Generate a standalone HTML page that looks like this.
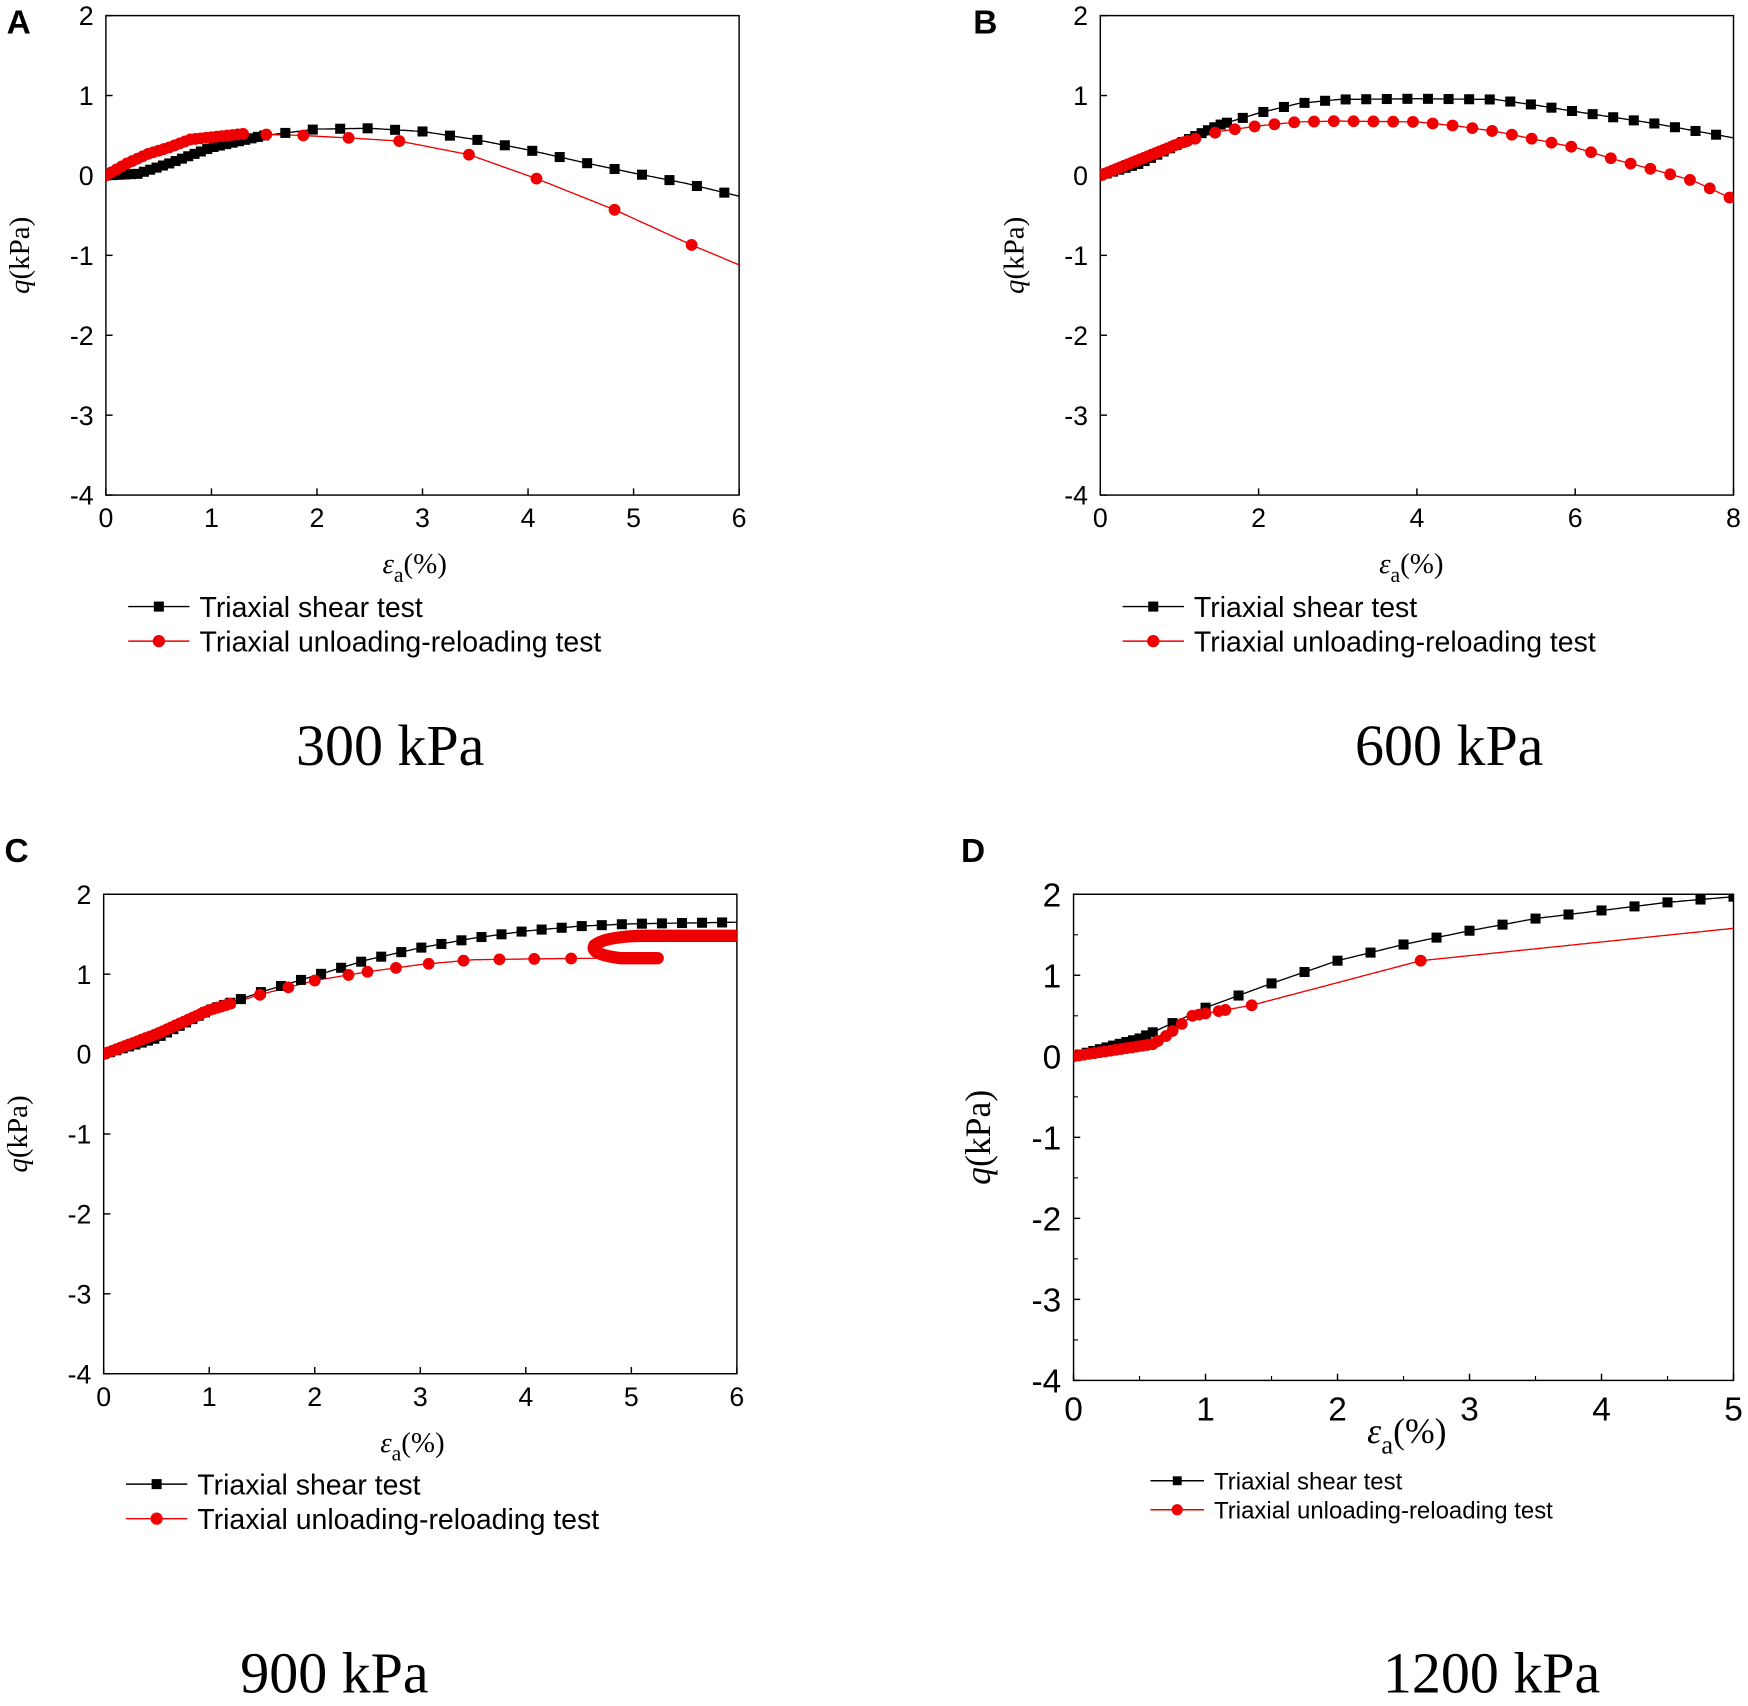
<!DOCTYPE html>
<html><head><meta charset="utf-8"><style>html,body{margin:0;padding:0;background:#fff}svg{display:block}</style></head>
<body>
<svg id="s" width="1748" height="1706" viewBox="0 0 1568 1530" preserveAspectRatio="none" xmlns="http://www.w3.org/2000/svg"></svg>
<script>
const S=document.getElementById('s');let h='';
function interp(P,x){for(let i=0;i<P.length-1;i++){if(x<=P[i+1][0]){const a=P[i],b=P[i+1];return a[1]+(b[1]-a[1])*(x-a[0])/(b[0]-a[0]);}}return P[P.length-1][1];}
function panel(o){
 const {x0,x1,y0,y1,xmax,fs}=o;const sx=v=>x0+(x1-x0)*v/xmax, sy=v=>y0+(y1-y0)*(2-v)/6;
 const xs=o.xstep||1;
 h+=`<rect x="${x0}" y="${y0}" width="${x1-x0}" height="${y1-y0}" fill="none" stroke="#000" stroke-width="1.3"/>`;
 for(let v=-4;v<=2;v++){const y=sy(v);h+=`<line x1="${x0}" x2="${x0+6}" y1="${y}" y2="${y}" stroke="#000" stroke-width="1.3"/>`;
  h+=`<text x="${x0-11}" y="${y+fs*0.36}" font-size="${fs}" text-anchor="end" font-family="Liberation Sans">${v}</text>`;
  if(o.minor&&v<2){const ym=sy(v+0.5);h+=`<line x1="${x0}" x2="${x0+4}" y1="${ym}" y2="${ym}" stroke="#000"/>`;}}
 for(let v=0;v<=xmax;v+=xs){const x=sx(v);h+=`<line x1="${x}" x2="${x}" y1="${y1}" y2="${y1-6}" stroke="#000" stroke-width="1.3"/>`;
  h+=`<text x="${x}" y="${y1+fs*1.2}" font-size="${fs}" text-anchor="middle" font-family="Liberation Sans">${v}</text>`;
  if(o.minor&&v<xmax){const xm=sx(v+0.5);h+=`<line x1="${xm}" x2="${xm}" y1="${y1}" y2="${y1-4}" stroke="#000"/>`;}}
 const yc=(y0+y1)/2;h+=`<text transform="translate(${o.ylx},${yc}) rotate(-90)" font-size="${o.yfs}" text-anchor="middle" font-family="Liberation Serif"><tspan font-style="italic">q</tspan>(kPa)</text>`;
 h+=`<text x="${o.xlx}" y="${o.xly}" font-size="${o.yfs}" text-anchor="middle" font-family="Liberation Serif"><tspan font-style="italic">ε</tspan><tspan font-size="${o.yfs*0.75}" dy="${o.yfs*0.3}">a</tspan><tspan dy="${-o.yfs*0.3}">(%)</tspan></text>`;
 const clip=`c${x0}`;h+=`<clipPath id="${clip}"><rect x="${x0}" y="${y0}" width="${x1-x0}" height="${y1-y0}"/></clipPath><g clip-path="url(#${clip})">`;
 function line(P,c,w){let d='';const e=P[P.length-1][0];for(let t=0;t<=e+1e-9;t+=0.02){d+=(d?'L':'M')+sx(t).toFixed(1)+','+sy(interp(P,t)).toFixed(1);}h+=`<path d="${d}" fill="none" stroke="${c}" stroke-width="${w}"/>`;}
 line(o.b,'#000',1.2);line(o.r,'#e00',1.2);
 if(o.extra)h+=o.extra(sx,sy);
 const ms=o.ms||9;
 o.bm.forEach(t=>{h+=`<rect x="${sx(t)-ms/2}" y="${sy(interp(o.b,t))-ms/2}" width="${ms}" height="${ms}" fill="#000"/>`;});
 o.rm.forEach(t=>{h+=`<circle cx="${sx(t)}" cy="${sy(interp(o.r,t))}" r="${ms/2+0.8}" fill="#e00"/>`;});
 h+='</g>';
 const L=o.leg;h+=`<line x1="${L.x}" x2="${L.x+L.w}" y1="${L.y}" y2="${L.y}" stroke="#000" stroke-width="1.3"/><rect x="${L.x+L.w/2-L.m/2}" y="${L.y-L.m/2}" width="${L.m}" height="${L.m}"/>`;
 h+=`<text x="${L.x+L.w+9}" y="${L.y+L.fs*0.36}" font-size="${L.fs}" font-family="Liberation Sans">Triaxial shear test</text>`;
 h+=`<line x1="${L.x}" x2="${L.x+L.w}" y1="${L.y+L.d}" y2="${L.y+L.d}" stroke="#e00" stroke-width="1.3"/><circle cx="${L.x+L.w/2}" cy="${L.y+L.d}" r="${L.m/2+1}" fill="#e00"/>`;
 h+=`<text x="${L.x+L.w+9}" y="${L.y+L.d+L.fs*0.36}" font-size="${L.fs}" font-family="Liberation Sans">Triaxial unloading-reloading test</text>`;
 h+=`<text x="${o.tx}" y="${o.ty}" font-size="52" text-anchor="middle" font-family="Liberation Serif">${o.title}</text>`;
 h+=`<text x="${o.lab[0]}" y="${o.lab[1]}" font-size="30" font-weight="bold" font-family="Liberation Sans">${o.lab[2]}</text>`;
}
function rng(a,b,s){const r=[];for(let t=a;t<=b+1e-9;t+=s)r.push(+t.toFixed(3));return r;}
panel({x0:95,x1:663,y0:14,y1:444,xmax:6,fs:24,ylx:26,yfs:26,xlx:372,xly:514,
 b:[[0,0],[0.3,0.02],[0.6,0.15],[1,0.35],[1.5,0.5],[2,0.58],[2.5,0.59],[3,0.55],[3.5,0.45],[4,0.32],[4.5,0.17],[5,0.03],[5.5,-0.1],[6,-0.26]],
 bm:rng(0,1.5,0.06).concat(rng(1.7,5.95,0.26)),
 r:[[0,0],[0.2,0.15],[0.4,0.27],[0.6,0.35],[0.8,0.45],[1.3,0.52],[1.87,0.5],[2.3,0.47],[2.78,0.43],[3.44,0.26],[4.08,-0.04],[4.82,-0.43],[5.55,-0.87],[6,-1.12]],
 rm:rng(0,1.3,0.05).concat([1.52,1.87,2.3,2.78,3.44,4.08,4.82,5.55]),
 leg:{x:115,y:544,w:55,m:9,d:31,fs:25.5},tx:350,ty:686,title:'300 kPa',lab:[6,30,'A']});
panel({x0:987,x1:1555,y0:14,y1:444,xmax:8,xstep:2,fs:24,ylx:918,yfs:26,xlx:1266,xly:514,
 b:[[0,0],[0.5,0.15],[1,0.4],[1.5,0.63],[2,0.78],[2.5,0.9],[3,0.95],[4,0.96],[5,0.95],[5.5,0.88],[6,0.8],[7,0.65],[8,0.47]],
 bm:rng(0,1.6,0.08).concat(rng(1.8,8,0.26)),
 r:[[0,0],[0.5,0.2],[1,0.4],[1.5,0.55],[2,0.62],[2.5,0.67],[3,0.68],[4,0.67],[4.5,0.62],[5,0.55],[5.5,0.45],[6,0.35],[6.5,0.2],[7,0.07],[7.5,-0.07],[8,-0.3]],
 rm:rng(0,1.1,0.05).concat(rng(1.2,8,0.25)),
 leg:{x:1007,y:544,w:55,m:9,d:31,fs:25.5},tx:1300,ty:686,title:'600 kPa',lab:[873,30,'B']});
panel({x0:93,x1:661,y0:802,y1:1232,xmax:6,fs:24,ylx:24,yfs:26,xlx:370,xly:1302,
 b:[[0,0],[0.5,0.2],[1,0.55],[1.5,0.78],[2,0.98],[2.5,1.18],[3,1.33],[3.5,1.45],[4,1.54],[4.5,1.6],[5,1.63],[6,1.65]],
 bm:rng(0,1.2,0.06).concat(rng(1.3,6,0.19)),
 r:[[0,0],[0.5,0.25],[1,0.55],[1.5,0.75],[2,0.92],[2.5,1.03],[3,1.12],[3.5,1.18],[4,1.19],[4.7,1.2],[4.9,1.2]],
 rm:rng(0,1.2,0.04).concat([1.48,1.75,2.0,2.32,2.5,2.77,3.08,3.41,3.75,4.08,4.43]),
 extra:(sx,sy)=>`<path d="M${sx(5.25)},${sy(1.2)} L${sx(4.9)},${sy(1.2)} Q${sx(4.6)},${sy(1.25)} ${sx(4.65)},${sy(1.36)} Q${sx(4.75)},${sy(1.47)} ${sx(5.1)},${sy(1.48)} L${sx(6.1)},${sy(1.48)}" fill="none" stroke="#e00" stroke-width="11" stroke-linecap="round"/>`,
 leg:{x:113,y:1331,w:55,m:9,d:31,fs:25.5},tx:300,ty:1518,title:'900 kPa',lab:[4,773,'C']});
panel({x0:963,x1:1555,y0:802,y1:1238,xmax:5,fs:30,ylx:888,yfs:32,xlx:1262,xly:1294,minor:true,
 b:[[0,0],[0.5,0.22],[1,0.6],[1.5,0.9],[2,1.18],[2.5,1.38],[3,1.55],[3.5,1.7],[4,1.8],[4.5,1.9],[5,1.97]],
 bm:rng(0,0.6,0.05).concat(rng(0.75,5,0.25)),
 r:[[0,0],[0.6,0.15],[0.7,0.25],[0.9,0.5],[1.35,0.63],[2.63,1.18],[5,1.58]],
 rm:rng(0,0.65,0.04).concat([0.7,0.75,0.82,0.9,0.95,1.0,1.1,1.15,1.35,2.63]),
 leg:{x:1032,y:1328,w:48,m:8,d:26,fs:21.5},tx:1338,ty:1518,title:'1200 kPa',lab:[862,773,'D']});
S.innerHTML=h;
</script>
</body></html>
